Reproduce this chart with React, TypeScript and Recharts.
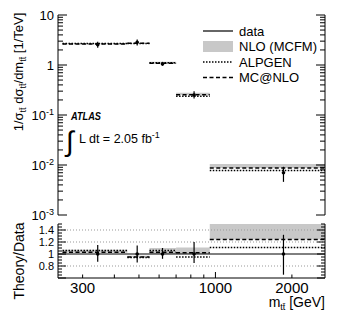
import React from "react";
import {
  ComposedChart,
  Line,
  Scatter,
  ErrorBar,
  XAxis,
  YAxis,
  ReferenceArea,
  ReferenceLine,
  Legend,
} from "recharts";

const FONT = "'Liberation Sans', Arial, Helvetica, sans-serif";

// m_tt bins [GeV] and where the data points sit
const binLo = [250, 450, 550, 700, 950];
const binHi = [450, 550, 700, 950, 2700];
const dataMass = [344, 492, 619, 824, 1853];

// upper panel: 1/sigma dsigma/dm [1/TeV]
const dataXsec = [2.55, 2.85, 1.05, 0.25, 0.007];
const dataErrDown = [0.33, 0.4, 0.084, 0.037, 0.0024];
const dataErrUp = [0.38, 0.4, 0.105, 0.05, 0.0022];
const alpgenXsec = [2.7, 2.68, 1.11, 0.238, 0.0078];
const mcnloXsec = [2.63, 2.71, 1.08, 0.255, 0.0087];
const nloLow = [2.6, 2.7, 1.05, 0.25, 0.0087];
const nloHigh = [2.73, 2.77, 1.16, 0.278, 0.0105];

// lower panel: theory / data
const ratioErrDown = [0.13, 0.14, 0.08, 0.15, 0.345];
const ratioErrUp = [0.15, 0.14, 0.1, 0.2, 0.32];
const alpgenRatio = [1.06, 0.94, 1.06, 0.95, 1.11];
const mcnloRatio = [1.03, 0.95, 1.03, 1.02, 1.24];
const nloRatioLow = [1.02, 0.95, 1.0, 1.0, 1.24];
const nloRatioHigh = [1.07, 0.97, 1.1, 1.11, 1.5];

// axes
const massTicks = [300, 400, 500, 600, 700, 800, 900, 1000, 2000];
const massLabels = [300, 1000, 2000];
const xsecDecades = [0.001, 0.01, 0.1, 1, 10];
const ratioLabels = [0.8, 1, 1.2, 1.4];
const ratioGrid = [0.8, 1.2, 1.4];
const legendLabels = ["data", "NLO (MCFM)", "ALPGEN", "MC@NLO"];

const xsecTicks = xsecDecades.flatMap((d) =>
  d === 10 ? [10] : [1, 2, 3, 4, 5, 6, 7, 8, 9].map((m) => Number((m * d).toPrecision(2)))
);
const ratioTicks = Array.from({ length: 19 }, (_, i) => Number((0.6 + 0.05 * i).toFixed(2)));

const steps = (vals: number[]) =>
  vals.flatMap((v, i) => [
    { x: binLo[i], y: v },
    { x: binHi[i], y: v },
    { x: binHi[i], y: null },
  ]);

const topPoints = dataXsec.map((v, i) => ({
  x: dataMass[i],
  y: v,
  err: [dataErrDown[i], dataErrUp[i]],
}));
const ratioPoints = dataMass.map((m, i) => ({
  x: m,
  y: 1,
  err: [ratioErrDown[i], ratioErrUp[i]],
}));

const isDecade = (v: number) => Math.abs(Math.log10(v) - Math.round(Math.log10(v))) < 1e-6;
const isRatioMajor = (v: number) => Math.abs(v * 5 - Math.round(v * 5)) < 1e-6;

type Side = "left" | "right" | "top" | "bottom";

// inward ATLAS-style ticks, optional label outside
function makeTick(
  side: Side,
  isMajor: (v: number) => boolean,
  majorLen: number,
  minorLen: number,
  label?: (v: number) => React.ReactNode,
  fontSize = 13
) {
  return (p: any) => {
    const v = p.payload.value;
    const len = isMajor(v) ? majorLen : minorLen;
    const x = p.x;
    const y = p.y;
    let end = { x, y };
    if (side === "left") end = { x: x + len, y };
    if (side === "right") end = { x: x - len, y };
    if (side === "top") end = { x, y: y + len };
    if (side === "bottom") end = { x, y: y - len };
    const txt = label ? label(v) : null;
    return (
      <g>
        <line x1={x} y1={y} x2={end.x} y2={end.y} stroke="#000" strokeWidth={1} />
        {txt !== null && side === "left" && (
          <text x={x - 4} y={y + fontSize * 0.36} textAnchor="end" fontSize={fontSize} fontFamily={FONT} fill="#000">
            {txt}
          </text>
        )}
        {txt !== null && side === "bottom" && (
          <text x={x} y={y + 15} textAnchor="middle" fontSize={fontSize} fontFamily={FONT} fill="#000">
            {txt}
          </text>
        )}
      </g>
    );
  };
}

const xsecLabel = (v: number) => {
  if (!isDecade(v)) return null;
  if (v >= 1) return String(v);
  return (
    <>
      10<tspan dy={-5} fontSize={9}>{Math.round(Math.log10(v))}</tspan>
    </>
  );
};
const ratioLabel = (v: number) => (ratioLabels.some((l) => Math.abs(l - v) < 1e-6) ? String(v) : null);
const massLabel = (v: number) => (massLabels.includes(v) ? String(v) : null);
const isThousand = (v: number) => v === 1000;

const massAxisProps = {
  dataKey: "x",
  type: "number" as const,
  scale: "log" as const,
  domain: [240, 2700],
  allowDataOverflow: true,
  ticks: massTicks,
  interval: 0 as const,
  tickLine: false,
  tickSize: 0,
  tickMargin: 0,
  stroke: "#000",
};

const sideAxis = (id: string, orientation: "left" | "right", domain: number[], ticks: number[], log: boolean) => ({
  yAxisId: id,
  orientation,
  dataKey: "y",
  type: "number" as const,
  scale: log ? ("log" as const) : ("linear" as const),
  domain,
  allowDataOverflow: true,
  ticks,
  interval: 0 as const,
  tickLine: false,
  tickSize: 0,
  tickMargin: 0,
  stroke: "#000",
  width: orientation === "left" ? 58 : 21,
});

function LegendBox() {
  return (
    <svg width={140} height={66}>
      {legendLabels.map((name, i) => {
        const cy = 9 + i * 15.5;
        return (
          <g key={name}>
            {i === 0 && <line x1={3} x2={33} y1={cy} y2={cy} stroke="#000" strokeWidth={1.2} />}
            {i === 1 && <rect x={3} y={cy - 5.5} width={30} height={11} fill="#c8c8c8" />}
            {i === 2 && <line x1={3} x2={33} y1={cy} y2={cy} stroke="#000" strokeWidth={1.5} strokeDasharray="1.5 1.5" />}
            {i === 3 && <line x1={3} x2={33} y1={cy} y2={cy} stroke="#000" strokeWidth={1.5} strokeDasharray="4 2.5" />}
            <text x={39} y={cy + 4.5} fontSize={13} fontFamily={FONT} fill="#000">
              {name}
            </text>
          </g>
        );
      })}
    </svg>
  );
}

function TopPanel() {
  return (
    <ComposedChart width={346} height={222} margin={{ top: 15, right: 0, bottom: 7, left: 0 }}>
      <XAxis xAxisId="b" orientation="bottom" height={0} {...massAxisProps} tick={makeTick("bottom", isThousand, 6, 3.5)} />
      <XAxis xAxisId="t" orientation="top" height={0} {...massAxisProps} tick={makeTick("top", isThousand, 6, 3.5)} />
      <YAxis {...sideAxis("l", "left", [0.001, 10], xsecTicks, true)} tick={makeTick("left", isDecade, 9, 5, xsecLabel)} />
      <YAxis {...sideAxis("r", "right", [0.001, 10], xsecTicks, true)} tick={makeTick("right", isDecade, 9, 5)} />
      {binLo.map((lo, i) => (
        <ReferenceArea
          key={`nlo-${i}`}
          xAxisId="b"
          yAxisId="l"
          x1={lo}
          x2={binHi[i]}
          y1={nloLow[i]}
          y2={nloHigh[i]}
          fill="#c8c8c8"
          fillOpacity={1}
          stroke="none"
          ifOverflow="hidden"
        />
      ))}
      <Line xAxisId="b" yAxisId="l" data={steps(alpgenXsec)} dataKey="y" stroke="#000" strokeWidth={1.5}
        strokeDasharray="1.5 1.5" dot={false} activeDot={false} connectNulls={false} isAnimationActive={false} />
      <Line xAxisId="b" yAxisId="l" data={steps(mcnloXsec)} dataKey="y" stroke="#000" strokeWidth={1.5}
        strokeDasharray="4 2.5" dot={false} activeDot={false} connectNulls={false} isAnimationActive={false} />
      <Scatter xAxisId="b" yAxisId="l" data={topPoints} isAnimationActive={false}
        shape={(p: any) => <circle cx={p.cx} cy={p.cy} r={1.8} fill="#000" />}>
        <ErrorBar dataKey="err" direction="y" width={0} stroke="#000" strokeWidth={1.2} />
      </Scatter>
      <Legend
        layout="horizontal"
        align="center"
        verticalAlign="middle"
        wrapperStyle={{ position: "absolute", left: 200, top: 22, width: 140, height: 66 }}
        content={() => <LegendBox />}
      />
    </ComposedChart>
  );
}

function RatioPanel() {
  return (
    <ComposedChart width={346} height={97} margin={{ top: 2, right: 0, bottom: 0, left: 0 }}>
      <XAxis xAxisId="b" orientation="bottom" height={41} {...massAxisProps} tick={makeTick("bottom", isThousand, 6, 3.5, massLabel, 15)} />
      <XAxis xAxisId="t" orientation="top" height={0} {...massAxisProps} tick={makeTick("top", isThousand, 6, 3.5)} />
      <YAxis {...sideAxis("l", "left", [0.6, 1.5], ratioTicks, false)} tick={makeTick("left", isRatioMajor, 8, 4, ratioLabel, 11)} />
      <YAxis {...sideAxis("r", "right", [0.6, 1.5], ratioTicks, false)} tick={makeTick("right", isRatioMajor, 8, 4)} />
      {binLo.map((lo, i) => (
        <ReferenceArea
          key={`nlor-${i}`}
          xAxisId="b"
          yAxisId="l"
          x1={lo}
          x2={binHi[i]}
          y1={nloRatioLow[i]}
          y2={nloRatioHigh[i]}
          fill="#c8c8c8"
          fillOpacity={1}
          stroke="none"
          ifOverflow="hidden"
        />
      ))}
      {ratioGrid.map((g) => (
        <ReferenceLine key={g} xAxisId="b" yAxisId="l" y={g} stroke="#999" strokeWidth={1} strokeDasharray="1 2" />
      ))}
      <ReferenceLine xAxisId="b" yAxisId="l" y={1} stroke="#000" strokeWidth={1} />
      <Line xAxisId="b" yAxisId="l" data={steps(alpgenRatio)} dataKey="y" stroke="#000" strokeWidth={1.5}
        strokeDasharray="1.5 1.5" dot={false} activeDot={false} connectNulls={false} isAnimationActive={false} />
      <Line xAxisId="b" yAxisId="l" data={steps(mcnloRatio)} dataKey="y" stroke="#000" strokeWidth={1.5}
        strokeDasharray="4 2.5" dot={false} activeDot={false} connectNulls={false} isAnimationActive={false} />
      <Scatter xAxisId="b" yAxisId="l" data={ratioPoints} isAnimationActive={false}
        shape={(p: any) => <circle cx={p.cx} cy={p.cy} r={1.8} fill="#000" />}>
        <ErrorBar dataKey="err" direction="y" width={0} stroke="#000" strokeWidth={1.2} />
      </Scatter>
    </ComposedChart>
  );
}

export default function App() {
  const tt = "tt\u0304";
  return (
    <div style={{ position: "absolute", left: 0, top: 0, width: 346, height: 319, background: "#fff", fontFamily: FONT }}>
      <div style={{ position: "absolute", left: 0, top: 0 }}>
        <TopPanel />
      </div>
      <div style={{ position: "absolute", left: 0, top: 222 }}>
        <RatioPanel />
      </div>
      <svg width={346} height={319} style={{ position: "absolute", left: 0, top: 0, pointerEvents: "none" }}>
        <g fontFamily={FONT} fill="#000">
          <text transform="translate(23,72) rotate(-90)" textAnchor="middle" fontSize={13}>
            1/σ<tspan dy={3} fontSize={9}>{tt}</tspan>
            <tspan dy={-3}> dσ</tspan>
            <tspan dy={3} fontSize={9}>{tt}</tspan>
            <tspan dy={-3}>/dm</tspan>
            <tspan dy={3} fontSize={9}>{tt}</tspan>
            <tspan dy={-3}> [1/TeV]</tspan>
          </text>
          <text transform="translate(24,261) rotate(-90)" textAnchor="middle" fontSize={14}>
            Theory/Data
          </text>
          <text x={325} y={307} textAnchor="end" fontSize={14}>
            m<tspan dy={3} fontSize={9}>{tt}</tspan>
            <tspan dy={-3}> [GeV]</tspan>
          </text>
          <text x={71} y={120} fontSize={11.5} fontWeight="bold" fontStyle="italic" textLength={30} lengthAdjust="spacingAndGlyphs">
            ATLAS
          </text>
          <text x={66} y={151} fontSize={28}>∫</text>
          <text x={79} y={143} fontSize={12.5}>
            L dt = 2.05 fb<tspan dy={-5} fontSize={9}>-1</tspan>
          </text>
        </g>
      </svg>
    </div>
  );
}
